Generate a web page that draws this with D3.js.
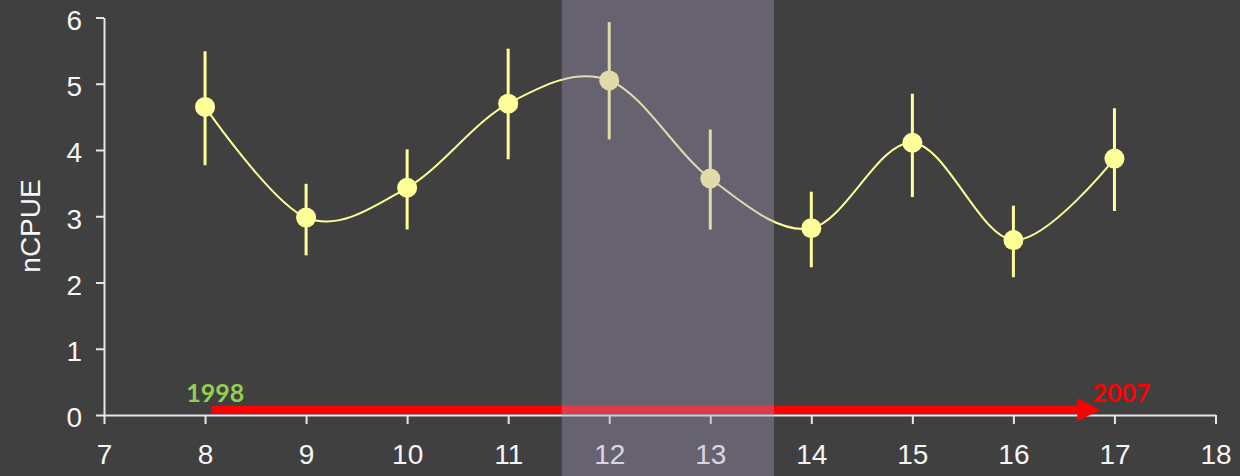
<!DOCTYPE html>
<html>
<head>
<meta charset="utf-8">
<script src="https://cdn.jsdelivr.net/npm/d3@7"></script>
<style>
  html, body { margin: 0; padding: 0; background: #404040; }
  svg { display: block; }
</style>
</head>
<body>
<svg id="chart" width="1240" height="476"></svg>
<script>
// Sampling months and normalised catch per unit effort
const months = [8, 9, 10, 11, 12, 13, 14, 15, 16, 17];
const ncpue  = [4.65, 2.98, 3.43, 4.70, 5.05, 3.57, 2.82, 4.11, 2.64, 3.87];
const upper  = [5.49, 3.49, 4.01, 5.53, 5.93, 4.31, 3.37, 4.85, 3.16, 4.63];
const lower  = [3.77, 2.41, 2.80, 3.86, 4.16, 2.80, 2.23, 3.29, 2.08, 3.08];

// Axis ticks
const xTicks = [7, 8, 9, 10, 11, 12, 13, 14, 15, 16, 17, 18];
const yTicks = [0, 1, 2, 3, 4, 5, 6];

// Highlighted period and year span arrow
const band = [11.53, 13.63];
const arrowSpan = [8.06, 16.86];
const arrowLevel = 0.08;
const yearLabels = [
  { text: "1998", x: 8.1, y: 0.2, color: "#92d050" },
  { text: "2007", x: 17.07, y: 0.2, color: "#ff0000" }
];

const data = months.map((m, i) => ({ m, v: ncpue[i], hi: upper[i], lo: lower[i] }));

const svg = d3.select("#chart");
const W = 1240, H = 476;

svg.append("rect").attr("width", W).attr("height", H).attr("fill", "#404040");

const x = d3.scaleLinear().domain([7, 18]).range([104, 1215.5]);
const y = d3.scaleLinear().domain([0, 6]).range([415, 17.5]);

const font = "'Liberation Sans', Arial, sans-serif";
const axisColor = "#e6e6e6";

// Y axis
const yAxis = svg.append("g")
  .attr("transform", `translate(${x(7)},0)`)
  .call(d3.axisLeft(y).tickValues(yTicks).tickFormat(d3.format("d"))
    .tickSize(8).tickSizeOuter(0).tickPadding(14));
yAxis.select(".domain").attr("stroke", axisColor).attr("stroke-width", 2);
yAxis.selectAll(".tick line").attr("stroke", axisColor).attr("stroke-width", 2);
yAxis.selectAll(".tick text")
  .attr("fill", "#f5f5f5").attr("font-family", font).attr("font-size", 28)
  .attr("dy", "0.42em");

// X axis
const xAxis = svg.append("g")
  .attr("transform", `translate(0,${y(0)})`)
  .call(d3.axisBottom(x).tickValues(xTicks).tickFormat(d3.format("d"))
    .tickSize(9).tickSizeOuter(0).tickPadding(26));
xAxis.select(".domain").attr("stroke", axisColor).attr("stroke-width", 2);
xAxis.selectAll(".tick line").attr("stroke", axisColor).attr("stroke-width", 2);
xAxis.selectAll(".tick text")
  .attr("fill", "#f5f5f5").attr("font-family", font).attr("font-size", 28)
  .attr("dy", "0.5em");

// Y axis title
svg.append("text")
  .attr("transform", `translate(40,226) rotate(-90)`)
  .attr("text-anchor", "middle")
  .attr("fill", "#f5f5f5").attr("font-family", font).attr("font-size", 28)
  .text("nCPUE");

// Year span arrow
const headLen = 23, headHalf = 11.5, shaft = 8;
const ay = y(arrowLevel);
const ax0 = x(arrowSpan[0]), ax1 = x(arrowSpan[1]);
svg.append("rect")
  .attr("x", ax0).attr("y", ay - shaft / 2)
  .attr("width", ax1 - headLen - ax0).attr("height", shaft)
  .attr("fill", "#ff0000");
svg.append("path")
  .attr("d", `M${ax1 - headLen},${ay - headHalf}L${ax1},${ay}L${ax1 - headLen},${ay + headHalf}Z`)
  .attr("fill", "#ff0000");

svg.selectAll("text.year").data(yearLabels).join("text")
  .attr("class", "year")
  .attr("x", d => x(d.x)).attr("y", d => y(d.y))
  .attr("text-anchor", "middle")
  .attr("fill", d => d.color)
  .attr("font-family", "Lato, 'Open Sans', sans-serif")
  .attr("font-weight", "bold").attr("font-size", 25)
  .text(d => d.text);

// Smoothed trend line
const line = d3.line().x(d => x(d.m)).y(d => y(d.v)).curve(d3.curveCatmullRom.alpha(0));
svg.append("path").datum(data)
  .attr("d", line).attr("fill", "none")
  .attr("stroke", "#ffff99").attr("stroke-width", 2);

// Error bars
svg.selectAll("line.err").data(data).join("line")
  .attr("class", "err")
  .attr("x1", d => x(d.m)).attr("x2", d => x(d.m))
  .attr("y1", d => y(d.hi)).attr("y2", d => y(d.lo))
  .attr("stroke", "#ffff99").attr("stroke-width", 3);

// Markers
svg.selectAll("circle.pt").data(data).join("circle")
  .attr("class", "pt")
  .attr("cx", d => x(d.m)).attr("cy", d => y(d.v))
  .attr("r", 10)
  .attr("fill", "#ffff99");

// Highlighted period overlay
svg.append("rect")
  .attr("x", x(band[0])).attr("y", 0)
  .attr("width", x(band[1]) - x(band[0])).attr("height", H)
  .attr("fill", "rgb(170,157,194)").attr("fill-opacity", 0.37);
</script>
</body>
</html>
